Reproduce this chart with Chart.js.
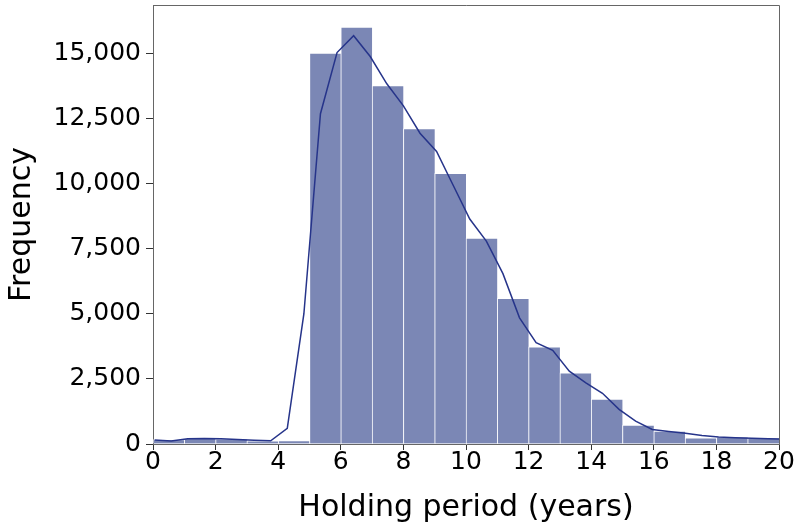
<!DOCTYPE html>
<html>
<head>
<meta charset="utf-8">
<script src="https://cdn.jsdelivr.net/npm/chart.js@4"></script>
<style>
  html, body { margin: 0; padding: 0; background: #fff; }
  #wrap { width: 797px; height: 527px; }
</style>
</head>
<body>
<div id="wrap"><canvas id="histChart" width="797" height="527"></canvas></div>
<script>
// histogram bins (1 year wide), centres and counts
const binCenters = [0.5, 1.5, 2.5, 3.5, 4.5, 5.5, 6.5, 7.5, 8.5, 9.5, 10.5, 11.5, 12.5, 13.5, 14.5, 15.5, 16.5, 17.5, 18.5, 19.5];
const binCounts = [170, 215, 195, 125, 135, 15030, 16030, 13780, 12130, 10410, 7920, 5600, 3740, 2740, 1730, 730, 500, 240, 280, 240];

// density curve (scaled to counts)
const kdeX = [0.05, 0.58, 1.11, 1.64, 2.17, 2.70, 3.23, 3.76, 4.29, 4.82, 5.35, 5.88, 6.41, 6.94, 7.47, 8.00, 8.53, 9.06, 9.59, 10.12,
              10.65, 11.18, 11.71, 12.24, 12.77, 13.30, 13.83, 14.36, 14.89, 15.42, 15.95, 16.48, 17.01, 17.54, 18.07, 18.60, 19.13, 19.66, 20.19];
const kdeY = [150, 120, 205, 210, 200, 175, 145, 125, 600, 5000, 12700, 15050, 15700, 14900, 13850, 13000, 11950, 11250, 9950, 8650,
              7800, 6550, 4850, 3900, 3600, 2800, 2350, 1950, 1330, 880, 560, 480, 410, 330, 270, 240, 220, 200, 190];

const xTicks = [0, 2, 4, 6, 8, 10, 12, 14, 16, 18, 20];
const yTicks = [0, 2500, 5000, 7500, 10000, 12500, 15000];

const fontFamily = "'DejaVu Sans', sans-serif";

// draws the top and right frame lines
const frameBox = {
    id: 'frameBox',
    afterDraw(chart) {
        const { ctx, chartArea } = chart;
        ctx.save();
        ctx.strokeStyle = '#666';
        ctx.lineWidth = 1;
        ctx.beginPath();
        ctx.moveTo(chartArea.left, chartArea.top + 0.5);
        ctx.lineTo(chartArea.right + 0.5, chartArea.top + 0.5);
        ctx.lineTo(chartArea.right + 0.5, chartArea.bottom);
        ctx.stroke();
        ctx.restore();
    }
};

const ctx = document.getElementById('histChart').getContext('2d');
new Chart(ctx, {
    type: 'bar',
    data: {
        datasets: [
            {
                type: 'line',
                data: kdeX.map((x, i) => ({ x, y: kdeY[i] })),
                borderColor: '#26348a',
                borderWidth: 1.5,
                pointRadius: 0,
                tension: 0,
                fill: false,
                order: 0,
            },
            {
                type: 'bar',
                data: binCenters.map((x, i) => ({ x, y: binCounts[i] })),
                backgroundColor: '#7b87b5',
                borderColor: 'rgba(255,255,255,0.75)',
                borderWidth: { top: 1, left: 1, right: 0, bottom: 0 },
                borderSkipped: false,
                barPercentage: 1,
                categoryPercentage: 1,
                order: 1,
            },
        ],
    },
    options: {
        responsive: false,
        animation: false,
        layout: { padding: { top: 5, right: 18, left: 0, bottom: 0 } },
        plugins: {
            legend: { display: false },
            tooltip: { enabled: false },
        },
        scales: {
            x: {
                type: 'linear',
                offset: false,
                min: 0,
                max: 20,
                afterBuildTicks: (scale) => { scale.ticks = xTicks.map(v => ({ value: v })); },
                afterFit: (scale) => {
                    scale.height = 83;
                    scale.paddingLeft = 0;
                    scale.paddingRight = 0;
                },
                grid: { offset: false, drawOnChartArea: false, drawTicks: true, tickLength: 6, color: '#333' },
                border: { display: true, color: '#666', width: 1 },
                ticks: {
                    color: '#000',
                    padding: -3,
                    maxRotation: 0,
                    font: { family: fontFamily, size: 25 },
                },
                title: {
                    display: true,
                    text: 'Holding period (years)',
                    color: '#000',
                    font: { family: fontFamily, size: 30 },
                    padding: { top: 4, bottom: 1 },
                },
            },
            y: {
                min: 0,
                max: 16880,
                afterBuildTicks: (scale) => { scale.ticks = yTicks.map(v => ({ value: v })); },
                afterFit: (scale) => {
                    scale.width = 153;
                    scale.paddingTop = 0;
                    scale.paddingBottom = 0;
                },
                grid: { drawOnChartArea: false, drawTicks: true, tickLength: 7, color: '#333' },
                border: { display: true, color: '#666', width: 1 },
                ticks: {
                    color: '#000',
                    padding: 5,
                    font: { family: fontFamily, size: 25 },
                    callback: (v) => v.toLocaleString('en-US'),
                },
                title: {
                    display: true,
                    text: 'Frequency',
                    color: '#000',
                    font: { family: fontFamily, size: 30 },
                    padding: { top: 4, bottom: 4 },
                },
            },
        },
    },
    plugins: [frameBox],
});
</script>
</body>
</html>
